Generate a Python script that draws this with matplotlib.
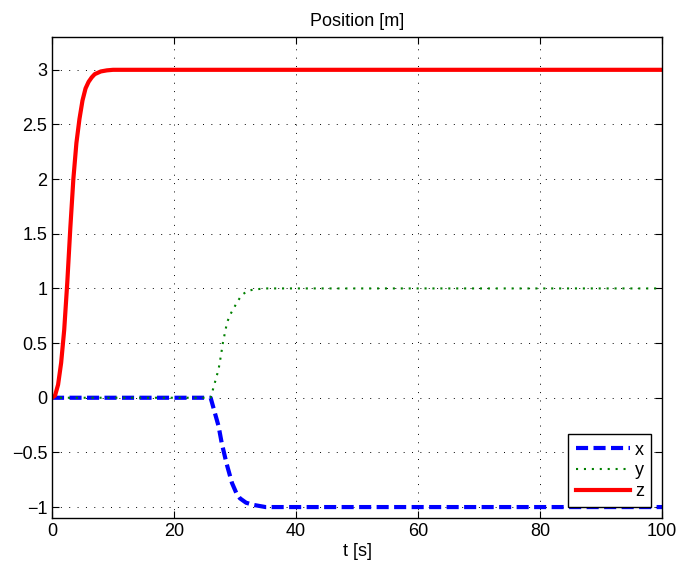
import matplotlib
matplotlib.use("Agg")
import matplotlib.pyplot as plt

# data
t_x = [0, 26, 26.4, 27.3, 27.8, 28.6, 29.5, 30.2, 30.8, 31.8, 33, 35, 100]
x_vals = [0, 0, -0.08, -0.26, -0.41, -0.6, -0.78, -0.87, -0.92, -0.96, -0.98, -1.0, -1.0]

t_y = [0, 26, 26.3, 26.8, 27.3, 27.7, 28, 28.4, 28.7, 29.2, 29.7, 30.4, 31.1, 32, 33, 35, 100]
y_vals = [0, 0, 0.06, 0.16, 0.26, 0.39, 0.5, 0.61, 0.69, 0.76, 0.81, 0.88, 0.94, 0.975, 0.99, 1.0, 1.0]

t_z = [0, 0.5, 1, 1.5, 2, 2.5, 3, 3.5, 4, 4.5, 5, 5.5, 6, 6.5, 7, 8, 9, 10, 12, 15, 20, 100]
z_vals = [0, 0.02, 0.12, 0.32, 0.62, 1.05, 1.55, 2.0, 2.33, 2.55, 2.72, 2.83, 2.89, 2.93, 2.96, 2.985, 2.995, 3.0, 3.0, 3.0, 3.0, 3.0]

xticks = [0, 20, 40, 60, 80, 100]
yticks = [-1, -0.5, 0, 0.5, 1, 1.5, 2, 2.5, 3]
ytick_labels = ["\u22121", "\u22120.5", "0", "0.5", "1", "1.5", "2", "2.5", "3"]

plt.rcParams['font.family'] = ['Liberation Sans', 'DejaVu Sans']

fig = plt.figure(figsize=(6.97, 5.73), dpi=100)
ax = fig.add_axes([0.0746, 0.096, 0.8754, 0.8394])

ax.plot(t_x, x_vals, color='#0000ff', lw=3, dashes=(2.9, 1.3), label='x')
ax.plot(t_y, y_vals, color='#008000', lw=1.5, dashes=(1, 2.8), label='y')
ax.plot(t_z, z_vals, color='#ff0000', lw=3, label='z')

ax.set_xlim(0, 100)
ax.set_ylim(-1.1, 3.3)
ax.set_xticks(xticks)
ax.set_yticks(yticks)
ax.set_yticklabels(ytick_labels)
ax.tick_params(direction='in', top=True, right=True, labelsize=13, length=5, width=0.8)
ax.grid(True, color='black', linestyle=(0, (1, 7.6)), linewidth=0.7)
for s in ax.spines.values():
    s.set_linewidth(1.0)

ax.set_title('Position [m]', fontsize=13, pad=8)
ax.set_xlabel('t [s]', fontsize=13, labelpad=2)

leg = ax.legend(loc='lower right', fontsize=13, handlelength=3.0, fancybox=False,
                edgecolor='black', framealpha=1, borderaxespad=0.6,
                labelspacing=0.2, handletextpad=0.3)
leg.get_frame().set_linewidth(1.0)

fig.savefig('out.png', dpi=100)
